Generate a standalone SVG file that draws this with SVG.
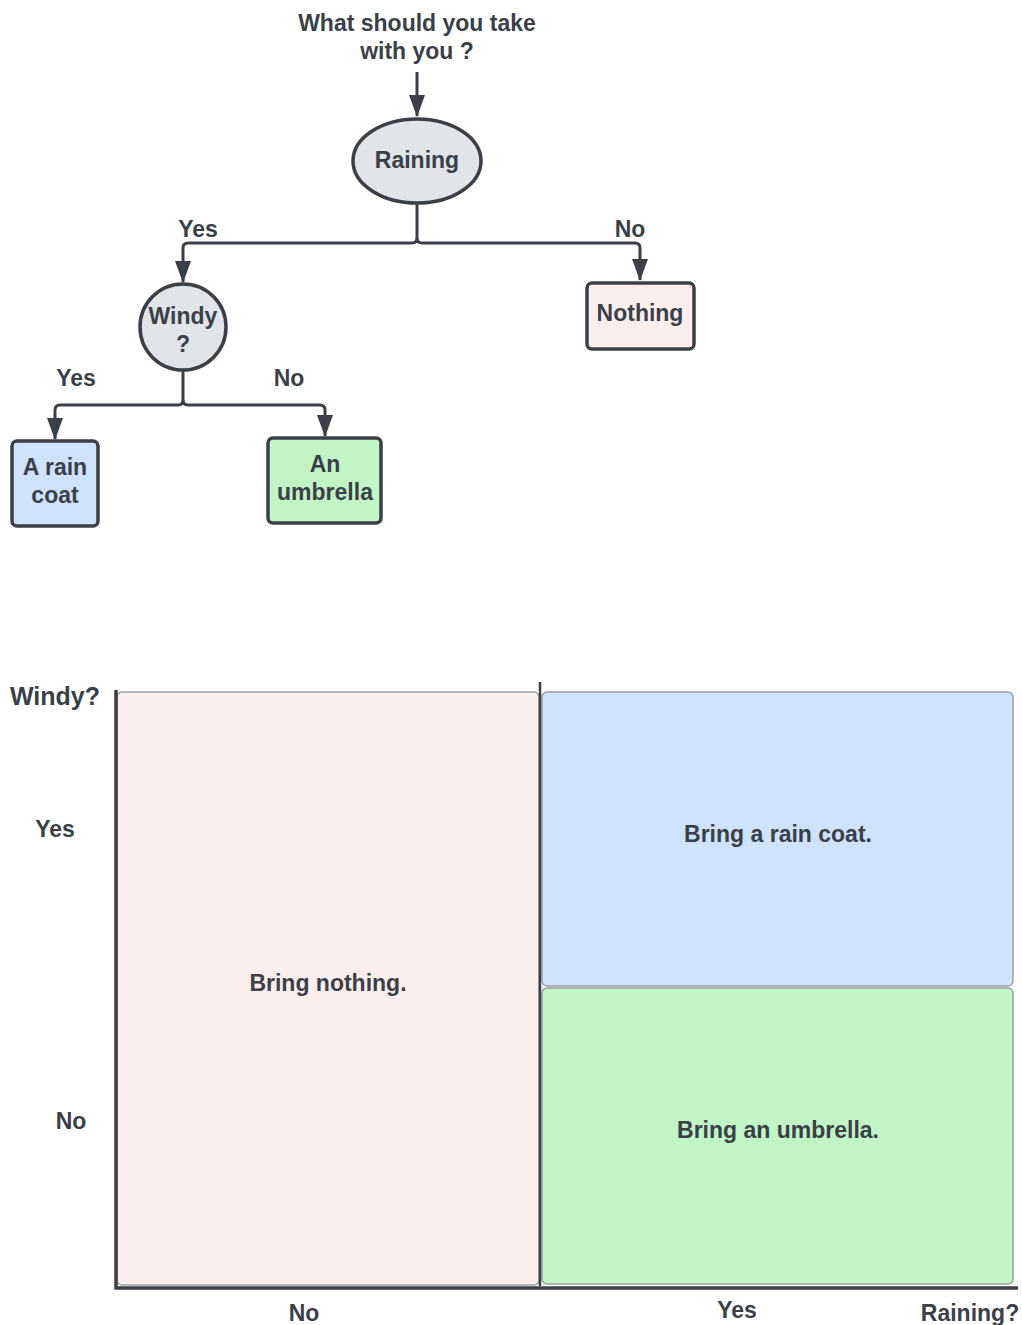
<svg xmlns="http://www.w3.org/2000/svg" width="1022" height="1325" viewBox="0 0 1022 1325">
<style>
text{font-family:"Liberation Sans",Arial,sans-serif;font-weight:bold;font-size:23px;fill:#3a3f48;text-anchor:middle}
.ln{fill:none;stroke:#3a3f48;stroke-width:3;stroke-linejoin:round}
.nd{stroke:#3a3f48;stroke-width:3.5}
.cell{stroke:#9a9ea5;stroke-width:1.5}
.ax{stroke:#3a3f48;stroke-width:3.5;fill:none}
</style>
<defs>
<marker id="ah" viewBox="0 0 22 16" refX="21" refY="8" markerWidth="22" markerHeight="16" markerUnits="userSpaceOnUse" orient="auto">
<path d="M0,0 L22,8 L0,16 Z" fill="#3a3f48"/>
</marker>
</defs>
<g id="title"><text x="417" y="31">What should you take</text><text x="417" y="59">with you ?</text></g>
<g id="connectors">
<path class="ln" d="M417,72 V116" marker-end="url(#ah)"/>
<path class="ln" d="M417,204 V238 Q417,243 412,243 H188 Q183,243 183,248 V282" marker-end="url(#ah)"/>
<path class="ln" d="M417,238 Q417,243 422,243 H635 Q640,243 640,248 V280" marker-end="url(#ah)"/>
<path class="ln" d="M183,371 V400 Q183,405 178,405 H60 Q55,405 55,410 V439" marker-end="url(#ah)"/>
<path class="ln" d="M183,400 Q183,405 188,405 H320 Q325,405 325,410 V436" marker-end="url(#ah)"/>
<text x="198" y="237">Yes</text>
<text x="630" y="237">No</text>
<text x="76" y="386">Yes</text>
<text x="289" y="386">No</text>
</g>
<g id="raining"><ellipse class="nd" cx="417" cy="161" rx="64" ry="42" fill="#e1e4e9"/><text x="417" y="168">Raining</text></g>
<g id="windy"><circle class="nd" cx="183" cy="327" r="43" fill="#e1e4e9"/><text x="183" y="324">Windy</text><text x="183" y="352">?</text></g>
<g id="nothing"><rect class="nd" x="587" y="283" width="107" height="66" rx="5" fill="#fdeeee"/><text x="640" y="321">Nothing</text></g>
<g id="raincoat"><rect class="nd" x="12" y="441" width="86" height="85" rx="5" fill="#d0e3fc"/><text x="55" y="475">A rain</text><text x="55" y="503">coat</text></g>
<g id="umbrella"><rect class="nd" x="268" y="438" width="113" height="85" rx="5" fill="#c2f5c6"/><text x="325" y="472">An</text><text x="325" y="500">umbrella</text></g>
<g id="chart">
<rect class="cell" x="117" y="692" width="422" height="593" rx="5" fill="#fdeeee"/>
<rect class="cell" x="542" y="692" width="471" height="294" rx="5" fill="#d0e3fc"/>
<rect class="cell" x="542" y="988" width="471" height="296" rx="5" fill="#c2f5c6"/>
<path class="ax" d="M116,690 V1288 H1018"/>
<path class="ax" d="M540,682 V1286" style="stroke-width:2.5"/>
<text x="55" y="705" style="font-size:25px">Windy?</text>
<text x="55" y="837">Yes</text>
<text x="71" y="1129">No</text>
<text x="328" y="991">Bring nothing.</text>
<text x="778" y="842">Bring a rain coat.</text>
<text x="778" y="1138">Bring an umbrella.</text>
<text x="304" y="1321">No</text>
<text x="737" y="1318">Yes</text>
<text x="970" y="1321">Raining?</text>
</g>
</svg>
